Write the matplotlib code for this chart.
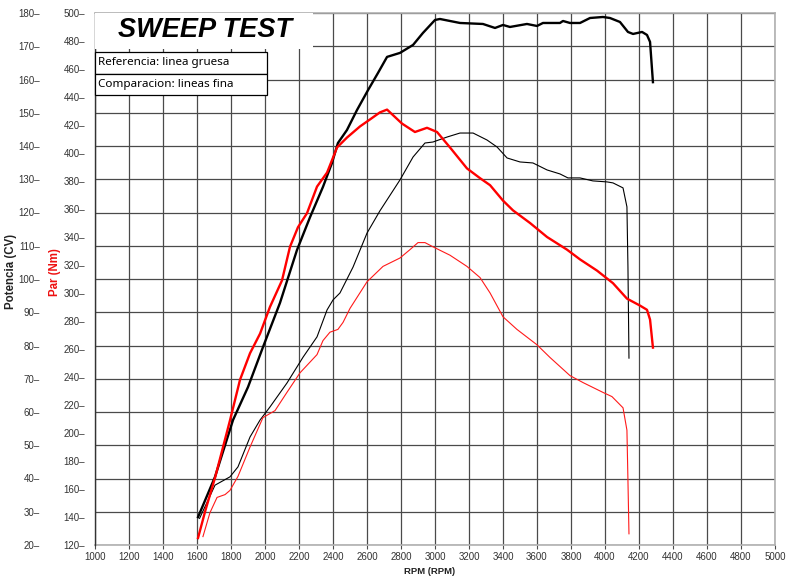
import matplotlib
matplotlib.use('Agg')
import matplotlib.pyplot as plt
from matplotlib.patches import Rectangle
import numpy as np

# reference run (thick lines)
ref_pow_rpm = [1606, 1706, 1812, 1900, 1988, 2088, 2188, 2265, 2341, 2394, 2429, 2482, 2541, 2606, 2665, 2718,
               2794, 2871, 2929, 3000, 3029, 3147, 3282, 3353, 3400, 3441, 3541, 3600, 3635, 3735, 3753, 3794,
               3853, 3912, 3988, 4029, 4088, 4135, 4165, 4218, 4247, 4265, 4282]
ref_pow_cv = [28.4, 40.5, 57.6, 67.5, 79.5, 92.8, 108.7, 118.6, 127.7, 134.9, 140.9, 144.8, 150.8, 156.8, 162, 166.8,
              168, 170.4, 174, 177.9, 178.2, 177, 176.7, 175.5, 176.4, 175.8, 176.7, 176.1, 177, 177, 177.6, 177,
              177, 178.5, 178.8, 178.5, 177.3, 174.3, 173.7, 174.3, 173.4, 171.3, 159.2]
ref_tq_rpm = [1606, 1650, 1706, 1794, 1853, 1912, 1971, 2029, 2100, 2147, 2194, 2247, 2306, 2365, 2424, 2482,
              2559, 2618, 2676, 2718, 2806, 2882, 2953, 3012, 3088, 3188, 3265, 3324, 3400, 3459, 3559, 3659,
              3776, 3853, 3953, 4047, 4129, 4206, 4247, 4265, 4282]
ref_tq_nm = [125, 145, 168, 209, 238, 257, 271, 290, 309, 333, 347, 357, 376, 386, 404, 411,
             419, 424, 429, 431, 421, 415, 418, 415, 404, 389, 382, 377, 366, 359, 350, 340,
             331, 324, 316, 307, 296, 291, 288, 281, 261]

# comparison run (thin lines)
cmp_pow_rpm = [1615, 1706, 1794, 1841, 1912, 1971, 2029, 2129, 2224, 2306, 2365, 2400, 2441, 2518, 2600, 2676,
               2794, 2871, 2941, 2988, 3071, 3147, 3224, 3306, 3365, 3424, 3500, 3576, 3659, 3735, 3782, 3853,
               3929, 4012, 4047, 4106, 4129, 4135, 4141]
cmp_pow_cv = [28, 38, 40.5, 43.5, 52.5, 57.6, 61.5, 68.7, 76.5, 82.6, 90.7, 93.7, 95.8, 103.6, 113.8, 120.5,
              129.8, 136.7, 140.9, 141.2, 142.7, 143.9, 143.9, 141.8, 139.7, 136.4, 135.2, 134.9, 132.8, 131.6, 130.4, 130.4,
              129.5, 129.2, 128.9, 127.4, 121.7, 103.6, 76.2]
cmp_tq_rpm = [1635, 1676, 1718, 1765, 1794, 1841, 1912, 1988, 2059, 2129, 2206, 2306, 2341, 2382, 2429, 2459,
              2500, 2600, 2694, 2794, 2853, 2900, 2941, 2988, 3088, 3188, 3265, 3324, 3400, 3482, 3600, 3676,
              3794, 3871, 3988, 4041, 4106, 4129, 4135, 4141]
cmp_tq_nm = [126, 143, 154, 156, 159, 169, 190, 211, 216, 229, 243, 256, 266, 272, 274, 279,
             289, 308, 319, 325, 331, 336, 336, 333, 327, 319, 311, 300, 283, 274, 263, 254,
             241, 236, 229, 226, 218, 202, 166, 128]

rpm_ticks = list(range(1000, 5001, 200))
cv_ticks = list(range(20, 181, 10))
nm_ticks = list(range(120, 501, 20))

title = 'SWEEP TEST'
legend_lines = ['Referencia: linea gruesa', 'Comparacion: lineas fina']

plt.rcParams['font.family'] = ['Liberation Sans', 'DejaVu Sans']
fig = plt.figure(figsize=(7.9, 5.83), dpi=100)
W, H = 790, 583
ax = fig.add_axes([95 / W, (H - 545) / H, 680 / W, 532 / H])  # power axis, carries the grid
ax2 = ax.twinx()  # torque axis

# spine position first: moving a spine resets its ticks
ax.spines['left'].set_position(('outward', 32.4))

ax.set_xlim(1000, 5000)
ax.set_ylim(20, 180)
ax2.set_ylim(120, 500)

grid_c = '#4a4a4a'
tick_c = '#333333'
ax.set_xticks(rpm_ticks)
ax.set_yticks(cv_ticks)
ax.grid(True, color=grid_c, lw=0.9)
ax.set_axisbelow(True)

ax.set_xticklabels([str(t) for t in rpm_ticks])
ax.set_yticklabels([str(t) + '–' for t in cv_ticks])
ax.tick_params(axis='x', length=3, width=0.8, color=grid_c, pad=2, labelsize=7, labelcolor=tick_c)
ax.tick_params(axis='y', length=0, pad=7.2, labelsize=7, labelcolor=tick_c)
for s in ['left', 'right', 'top']:
    ax.spines[s].set_visible(False)
ax.spines['bottom'].set_color('#b0b0b0')
ax.spines['bottom'].set_linewidth(1.2)

ax2.yaxis.set_ticks_position('left')
ax2.yaxis.set_label_position('left')
ax2.set_yticks(nm_ticks)
ax2.set_yticklabels([str(t) + '–' for t in nm_ticks])
ax2.tick_params(axis='y', length=0, pad=7.2, labelsize=7, labelcolor=tick_c)
ax2.spines['left'].set_color('#333333')
ax2.spines['left'].set_linewidth(1.0)
ax2.spines['bottom'].set_visible(False)
for s in ['right', 'top']:
    ax2.spines[s].set_color('#b0b0b0')
    ax2.spines[s].set_linewidth(1.2)

ax.set_ylabel('Potencia (CV)', fontsize=8.3, fontweight='bold', color='#222222')
ax.yaxis.set_label_coords(-0.115, 0.515)
ax2.set_ylabel('Par (Nm)', fontsize=8.3, fontweight='bold', color='#ee1111')
ax2.yaxis.set_label_coords(-0.050, 0.513)
ax.set_xlabel('RPM (RPM)', fontsize=6.8, fontweight='bold', color='#222222')
ax.xaxis.set_label_coords(0.4926, -0.041)

# curves
ax.plot(cmp_pow_rpm, cmp_pow_cv, color='black', lw=0.8, zorder=3)
ax.plot(ref_pow_rpm, ref_pow_cv, color='black', lw=1.7, zorder=4, solid_joinstyle='round')
ax2.plot(cmp_tq_rpm, cmp_tq_nm, color='#ff1a1a', lw=0.8, zorder=3)
ax2.plot(ref_tq_rpm, ref_tq_nm, color='#ff0000', lw=1.7, zorder=4, solid_joinstyle='round')

# title block and legend boxes (axes fraction)
def fx(px):
    return (px - 95) / 680.0

def fy(py):
    return (545 - py) / 532.0

ax2.add_patch(Rectangle((fx(95), fy(49)), fx(313) - fx(95), fy(13) - fy(49), transform=ax2.transAxes,
                        facecolor='white', edgecolor='none', zorder=5, clip_on=False))
ax2.text(fx(205), fy(30), title, transform=ax2.transAxes, fontsize=19.5, fontweight='bold',
         fontstyle='italic', ha='center', va='center', zorder=6)
for i, txt in enumerate(legend_lines):
    top = 52 + i * 21.5
    ax2.add_patch(Rectangle((fx(95), fy(top + 21.5)), fx(267) - fx(95), fy(top) - fy(top + 21.5),
                            transform=ax2.transAxes, facecolor='white', edgecolor='black', lw=0.9,
                            zorder=5, clip_on=False))
    ax2.text(fx(98), fy(top + 10.75), txt, transform=ax2.transAxes, fontsize=8.4,
             family=['Noto Sans', 'DejaVu Sans'], ha='left', va='center', zorder=6)

fig.savefig('out.png', dpi=100)
